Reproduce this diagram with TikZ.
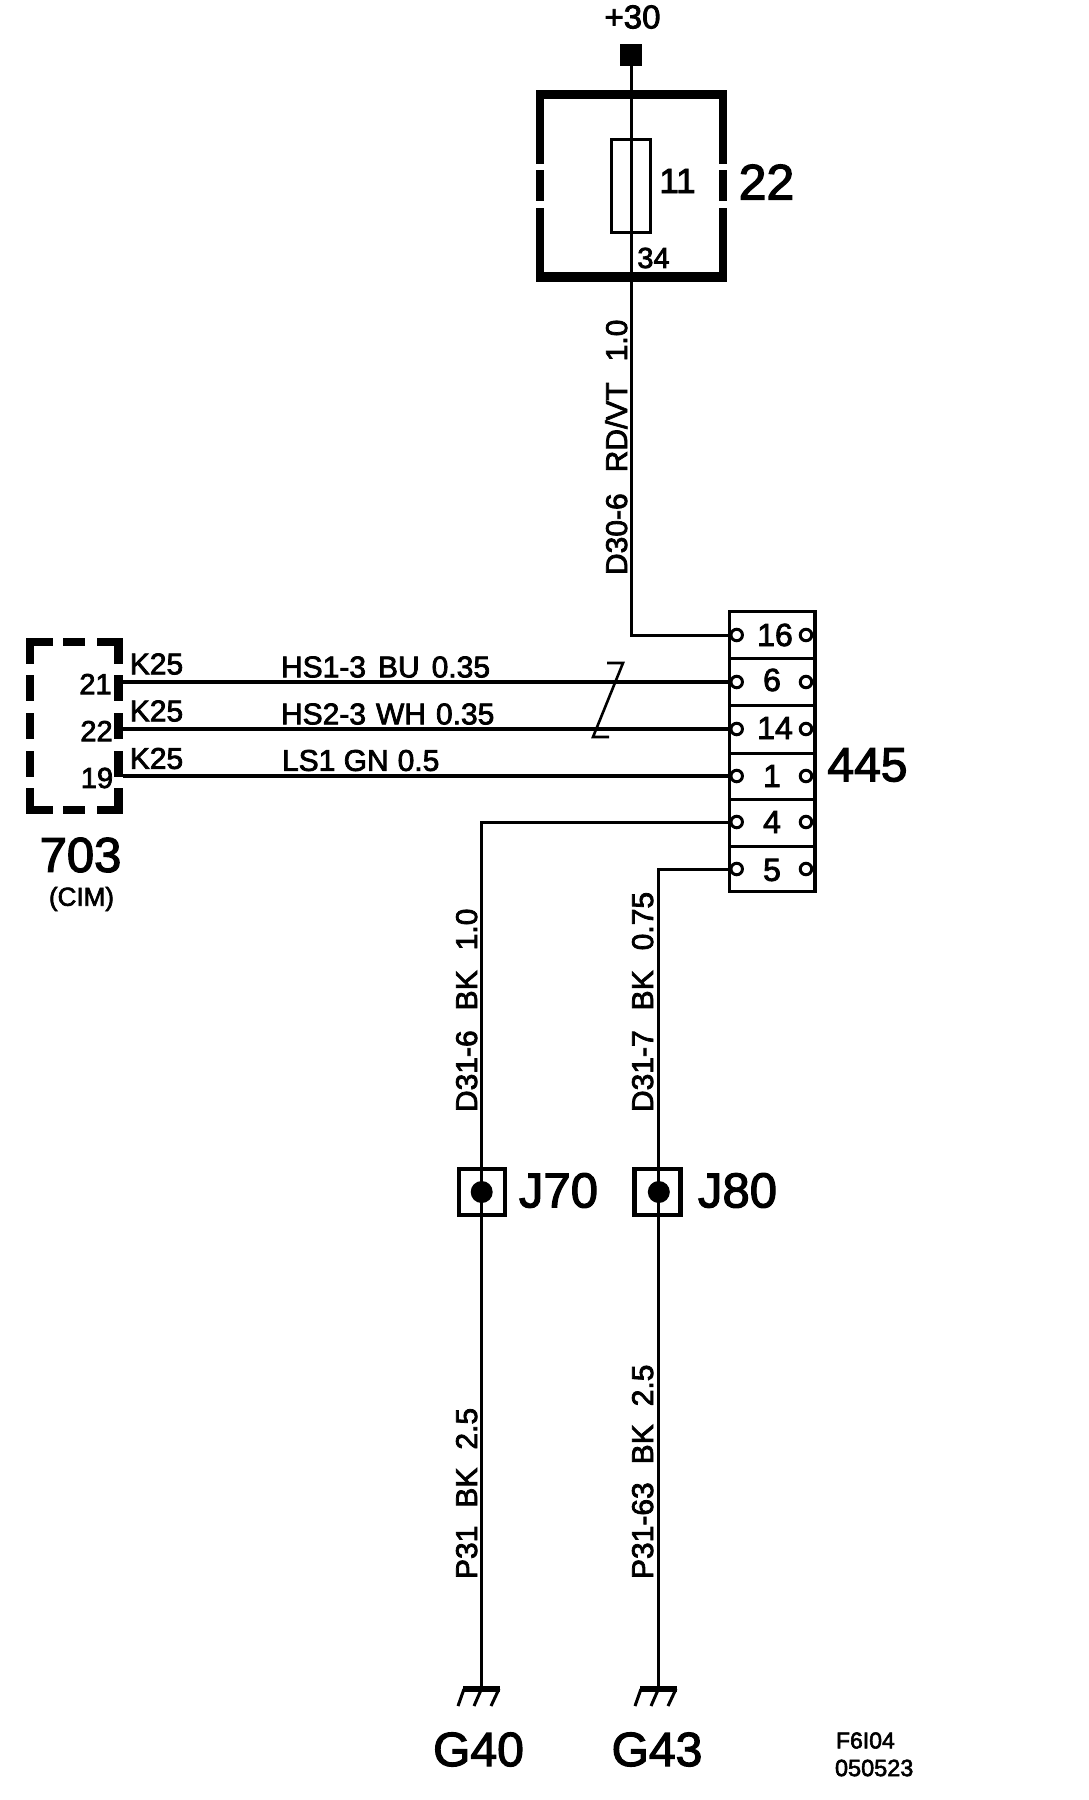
\documentclass[tikz,border=0pt]{standalone}
\usepackage{fontspec}
\setmainfont[FakeBold=2.5]{Liberation Sans}
\newcommand{\fs}[1]{\fontsize{#1}{#1}\selectfont}
\tikzset{x=1pt,y=-1pt,
 wire/.style={line width=3pt,line cap=butt,line join=miter},
 bus/.style={line width=3.4pt},
 lbl/.style={inner sep=0pt,outer sep=0pt,anchor=center},
 pinpt/.style={circle,draw,line width=3pt,fill=white,minimum size=11.5pt,inner sep=0pt},
 anchorpt/.style={inner sep=0pt,outer sep=0pt,minimum size=0pt},
 rowline/.style={line width=3pt},
 vlabel/.style={inner sep=0pt,outer sep=0pt,rotate=90,anchor=base west},
 splice/.style={draw,line width=4.5pt,fill=white,minimum size=46pt,inner sep=0pt},
 dot/.style={circle,fill=black,minimum size=22pt,inner sep=0pt},
}
\begin{document}
\begin{tikzpicture}
\useasboundingbox (0,0) rectangle (1088,1800);
\fill[white] (0,0) rectangle (1088,1800);
% +30 terminal
\node[fill=black,minimum size=22pt,inner sep=0pt] (plus) at (631,55) {};
\node[lbl] (plustxt) at (632.5,17) {\fs{33}+30};
% box 22
\foreach \a/\b in {90/164,170/201,208/282}{
 \fill (536,\a) rectangle (543.5,\b);
 \fill (718.5,\a) rectangle (727,\b);}
\fill (536,90) rectangle (727,99);
\fill (536,272) rectangle (727,282);
\node[lbl] (t11) at (677.5,181) {\fs{35}11};
\node[lbl] (t22) at (766.5,182) {\fs{50}22};
\node[lbl] (t34) at (653.5,258) {\fs{29}34};
\node[draw,line width=3pt,minimum width=39pt,minimum height=93pt,inner sep=0pt] (fuse) at (631,186) {};
% terminal block
\foreach \n/\t/\y/\tx/\ty in {a/16/635/775/635,b/6/682/772/680,c/14/729/775/728,d/1/776/772/776,e/4/822/772/822,f/5/869/772/870}{
 \node[lbl] (n\n) at (\tx,\ty) {\fs{32}\t};
 \node[pinpt] (l\n) at (736.7,\y) {};
 \node[pinpt] (r\n) at (806,\y) {};
}
\draw[line width=3.2pt] (729.5,611.5) rectangle (815,891.5);
\foreach \y in {658,705,753,799,846}{\draw[rowline] (729.5,\y) -- (815,\y);}
% wire from the fuse box to pin 16
\draw[wire] (plus) -- (631,635) -- (la.west);
% box 703
\foreach \a/\b in {675/701,713/739,751/777}{
 \fill (26,\a) rectangle (34,\b);
 \fill (114,\a) rectangle (123,\b);}
\fill (26,638) rectangle (34,664);
\fill (114,638) rectangle (123,664);
\fill (26,788) rectangle (34,814);
\fill (114,788) rectangle (123,814);
\foreach \a/\b in {26/53,63/85,97/123}{
 \fill (\a,638) rectangle (\b,646);
 \fill (\a,806) rectangle (\b,814);}
\node[anchorpt] (k21) at (123,682) {};
\node[anchorpt] (k22) at (123,729) {};
\node[anchorpt] (k19) at (123,776) {};
\draw[bus] (k21) -- (lb.west);
\draw[bus] (k22) -- (lc.west);
\draw[bus] (k19) -- (ld.west);
\node[lbl] (p21) at (95.5,684) {\fs{29}21};
\node[lbl] (p22) at (96.5,731) {\fs{29}22};
\node[lbl] (p19) at (97,778) {\fs{29}19};
\foreach \y in {664,711,758.5}{\node[lbl] at (156.5,\y) {\fs{30}K25};}
\node[lbl,anchor=west] (w1) at (281,667) {\fs{30}HS1-3\hspace{12pt}BU\hspace{12pt}0.35};
\node[lbl,anchor=west] (w2) at (281,714) {\fs{30}HS2-3\hspace{10pt}WH\hspace{10pt}0.35};
\node[lbl,anchor=west] (w3) at (282,760.5) {\fs{30}LS1 GN\hspace{9pt}0.5};
\node[lbl] (t703) at (80.5,855) {\fs{49}703};
\node[lbl] (tcim) at (81.5,899) {\fs{26}(CIM)};
% twist mark
\draw[line width=2.6pt,line join=miter] (607,663) -- (623,663) -- (593,737) -- (609,737);
\node[lbl] (t445) at (867.5,765) {\fs{48}445};
% splices
\node[splice] (j70) at (482,1192) {};
\node[splice] (j80) at (657.5,1192) {};
\coordinate (g40) at (481.7,1689);
\coordinate (g43) at (658.8,1689);
\draw[wire] (le.west) -| (g40);
\draw[wire] (lf.west) -| (g43);
\node[dot] (d70) at (481.7,1192) {};
\node[dot] (d80) at (658.8,1192) {};
\node[lbl,anchor=west] (t70) at (519,1190.5) {\fs{49}J70};
\node[lbl,anchor=west] (t80) at (698,1190.5) {\fs{49}J80};
% grounds
\foreach \o in {0,177}{
 \begin{scope}[xshift=\o pt]
 \fill (463,1686) rectangle (500,1692);
 \draw[line width=3pt] (464,1689) -- (458,1706);
 \draw[line width=3pt] (481,1690) -- (474,1706);
 \draw[line width=3pt] (499,1689) -- (491,1706);
 \end{scope}}
\node[lbl] (tg40) at (478.5,1749.5) {\fs{48}G40};
\node[lbl] (tg43) at (657,1749.5) {\fs{48}G43};
\node[lbl,anchor=west] (tf) at (836,1740.5) {\fs{23}F6I04};
\node[lbl,anchor=west] (td) at (835,1768) {\fs{23.5}050523};
% rotated labels
\node[vlabel] (v1) at (627,575) {\fs{30}D30-6\hspace{21pt}RD/VT\hspace{21pt}1.0};
\node[vlabel] (v2) at (477,1112) {\fs{30}D31-6\hspace{20pt}BK\hspace{20pt}1.0};
\node[vlabel] (v3) at (653,1112) {\fs{30}D31-7\hspace{20pt}BK\hspace{20pt}0.75};
\node[vlabel] (v4) at (477,1579) {\fs{30}P31\hspace{18pt}BK\hspace{18pt}2.5};
\node[vlabel] (v5) at (653,1579) {\fs{30}P31-63\hspace{18pt}BK\hspace{18pt}2.5};
\end{tikzpicture}
\end{document}
